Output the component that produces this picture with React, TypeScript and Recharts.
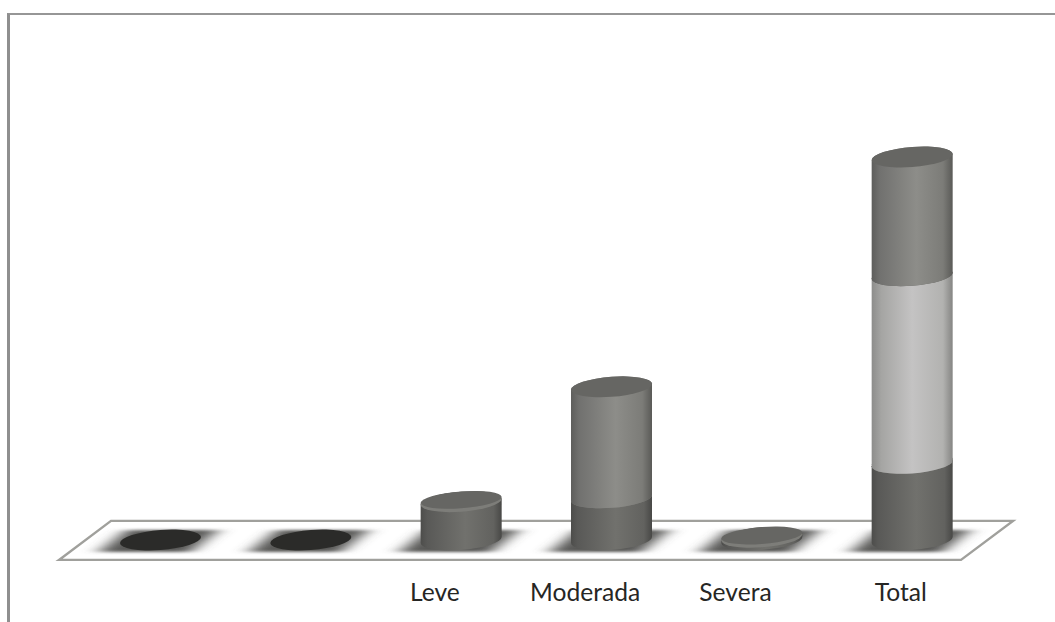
import React from 'react';
import { BarChart, Bar, XAxis, YAxis, ReferenceArea } from 'recharts';

const categories = ['', ' ', 'Leve', 'Moderada', 'Severa', 'Total'];
const lowerValues = [0, 0, 10, 11, 0.7, 20];
const middleValues = [0, 0, 0, 0, 0, 49];
const upperValues = [0, 0, 0, 29, 0, 31];

const rows = categories.map((name, i) => ({
  name,
  lower: lowerValues[i],
  middle: middleValues[i],
  upper: upperValues[i],
}));

const RY = 10;
const SKEW = 'skewY(-4.2)';

function Cylinder({ x, y, width, height, fill, rim }: any) {
  const rx = width / 2;
  const cx = x + rx;
  const top = y;
  const bottom = y + height;
  return (
    <g transform={`translate(${cx} 0)`}>
      <g transform={`translate(0 ${bottom}) ${SKEW} translate(0 ${-bottom})`}>
        <path
          d={`M ${-rx} ${top} L ${-rx} ${bottom} A ${rx} ${RY} 0 0 0 ${rx} ${bottom} L ${rx} ${top} A ${rx} ${RY} 0 0 0 ${-rx} ${top} Z`}
          fill={`url(#${fill})`}
        />
        <ellipse cx={0} cy={top} rx={rx} ry={RY} fill={rim ? '#7d7d79' : '#666663'} />
        {rim && <ellipse cx={0} cy={top - 1.8} rx={rx} ry={RY - 1.6} fill="#666663" />}
      </g>
    </g>
  );
}

function FloorShadow({ cx, base }: { cx: number; base: number }) {
  const top = base - 10;
  const low = base + 12;
  return (
    <polygon
      points={`${cx - 34},${top} ${cx + 58},${top} ${cx + 30},${low} ${cx - 62},${low}`}
      fill="#585856"
      filter="url(#floorBlur)"
    />
  );
}

function LowerSegment(props: any) {
  const { x, y, width, height } = props;
  const cx = x + width / 2;
  const base = y + height;
  return (
    <g>
      <FloorShadow cx={cx} base={base} />
      {height > 0 ? (
        <Cylinder x={x} y={y} width={width} height={height} fill="barLower" rim />
      ) : (
        <g transform={`translate(${cx} ${base}) ${SKEW}`}>
          <ellipse cx={0} cy={0} rx={width / 2} ry={RY} fill="#2b2b29" />
        </g>
      )}
    </g>
  );
}

const segment = (fill: string) => (props: any) =>
  props.height > 0 ? <Cylinder {...props} fill={fill} /> : <g />;

function Plate({ x, y, width, height }: any) {
  const lean = 26;
  return (
    <polygon
      points={`${x - lean},${y + height} ${x + lean},${y} ${x + width + lean},${y} ${x + width - lean},${y + height}`}
      fill="#ffffff"
      stroke="#a0a09c"
      strokeWidth={2.4}
    />
  );
}

function CategoryTick({ x, y, payload, index }: any) {
  const shift = index === categories.length - 1 ? -11 : -26;
  return (
    <text
      x={x + shift}
      y={y + 31}
      textAnchor="middle"
      fontFamily="Lato, sans-serif"
      fontSize={24.6}
      fill="#262624"
    >
      {payload.value}
    </text>
  );
}

export default function App() {
  return (
    <div style={{ position: 'absolute', left: 0, top: 0, width: 1055, height: 622, overflow: 'hidden', background: '#fff' }}>
      <div
        style={{
          position: 'absolute',
          left: 7,
          top: 13,
          right: 0,
          bottom: 0,
          borderLeft: '3px solid #8f8f8f',
          borderTop: '2px solid #969696',
        }}
      />
      <div style={{ position: 'absolute', left: 0, top: 0 }}>
        <BarChart
          width={1055}
          height={622}
          data={rows}
          margin={{ top: 157, right: 68, bottom: 0, left: 85 }}
          barSize={81}
        >
          <defs>
            <linearGradient id="barLower" x1="0" x2="1" y1="0" y2="0">
              <stop offset="0" stopColor="#4d4d4b" />
              <stop offset="0.08" stopColor="#595957" />
              <stop offset="0.55" stopColor="#71716d" />
              <stop offset="0.9" stopColor="#62625f" />
              <stop offset="1" stopColor="#484846" />
            </linearGradient>
            <linearGradient id="barMiddle" x1="0" x2="1" y1="0" y2="0">
              <stop offset="0" stopColor="#8d8d8b" />
              <stop offset="0.12" stopColor="#a5a5a3" />
              <stop offset="0.5" stopColor="#c4c3c3" />
              <stop offset="0.88" stopColor="#b2b2b0" />
              <stop offset="1" stopColor="#858583" />
            </linearGradient>
            <linearGradient id="barUpper" x1="0" x2="1" y1="0" y2="0">
              <stop offset="0" stopColor="#5e5e5c" />
              <stop offset="0.1" stopColor="#71716f" />
              <stop offset="0.55" stopColor="#8d8d89" />
              <stop offset="0.88" stopColor="#7c7c78" />
              <stop offset="1" stopColor="#5a5a57" />
            </linearGradient>
            <filter id="floorBlur" x="-40%" y="-40%" width="180%" height="180%">
              <feGaussianBlur stdDeviation="9 1.4" />
            </filter>
          </defs>
          <XAxis
            dataKey="name"
            height={82}
            axisLine={false}
            tickLine={false}
            interval={0}
            tick={<CategoryTick />}
            tickMargin={24}
          />
          <YAxis hide domain={[0, 100]} />
          <ReferenceArea y1={-5.2} y2={5} ifOverflow="visible" shape={<Plate />} />
          <Bar dataKey="lower" stackId="stack" isAnimationActive={false} shape={<LowerSegment />} />
          <Bar dataKey="middle" stackId="stack" isAnimationActive={false} shape={segment('barMiddle')} />
          <Bar dataKey="upper" stackId="stack" isAnimationActive={false} shape={segment('barUpper')} />
        </BarChart>
      </div>
    </div>
  );
}
